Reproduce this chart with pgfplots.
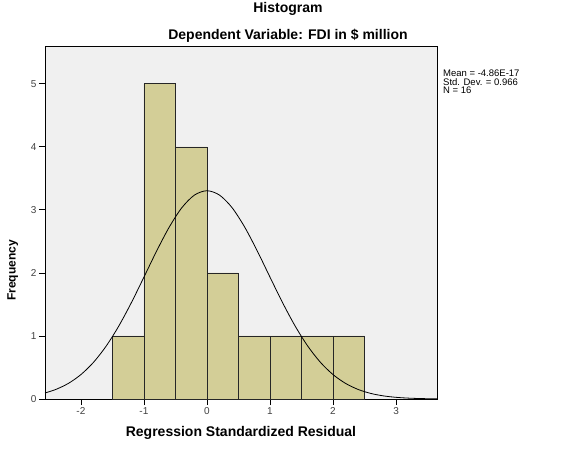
\documentclass[border=0pt]{standalone}
\usepackage{pgfplots}
\pgfplotsset{compat=1.18}
\usepackage{fontspec}
\setmainfont{Liberation Sans}
\definecolor{plotbg}{RGB}{240,240,240}
\definecolor{barfill}{RGB}{211,206,151}
\begin{document}
\begin{tikzpicture}
\begin{axis}[
  scale only axis, width=392pt, height=353pt,
  at={(0,0)}, anchor=south west,
  xmin=-2.57, xmax=3.65, ymin=0, ymax=5.6,
  axis background/.style={fill=plotbg},
  axis line style={black, line width=0.8pt},
  xtick={-2,-1,0,1,2,3}, ytick={0,1,2,3,4,5},
  tick align=outside, xtick pos=bottom, ytick pos=left,
  major tick length=6pt,
  tick style={black, line width=0.8pt},
  ticklabel style={font=\fontsize{10}{11}\selectfont, text=black!75},
  xticklabel style={yshift=1pt},
  yticklabel style={xshift=1pt},
  /pgf/number format/assume math mode=true,
  xlabel={Regression Standardized Residual},
  ylabel={Frequency},
  xlabel style={font=\bfseries\fontsize{14}{16}\selectfont, at={(axis description cs:0.5,-0.0963)}, anchor=center},
  ylabel style={font=\bfseries\fontsize{12}{14}\selectfont, at={(axis description cs:-0.082,0.364)}, anchor=center},
  clip=false,
]
\addplot[ybar interval, fill=barfill, draw=black!85, line width=0.7pt] coordinates {
  (-1.5,1) (-1.0,5) (-0.5,4) (0.0,2) (0.5,1) (1.0,1) (1.5,1) (2.0,1) (2.5,1)
};
\addplot[smooth, black, line width=0.8pt, mark=none] coordinates {
  (-2.57,0.0959) (-2.4,0.1509) (-2.2,0.2470) (-2.0,0.3875) (-1.8,0.5822)
  (-1.6,0.8382) (-1.4,1.1560) (-1.2,1.5275) (-1.0,1.9335) (-0.8,2.3450)
  (-0.6,2.7245) (-0.4,3.0330) (-0.2,3.2340) (0,3.3040) (0.2,3.2340)
  (0.4,3.0330) (0.6,2.7245) (0.8,2.3450) (1.0,1.9335) (1.2,1.5275)
  (1.4,1.1560) (1.6,0.8382) (1.8,0.5822) (2.0,0.3875) (2.2,0.2470)
  (2.4,0.1509) (2.6,0.0883) (2.8,0.0495) (3.0,0.0266) (3.2,0.0137)
  (3.4,0.0068) (3.6,0.0032) (3.65,0.0026)
};
\end{axis}
\node[font=\bfseries\fontsize{14}{16}\selectfont, anchor=center] at (243pt,390pt) {Histogram};
\node[font=\bfseries\fontsize{14}{16}\selectfont, anchor=center] at (243pt,363pt) {Dependent Variable: FDI in \$ million};
\node[font=\fontsize{9.5}{8.5}\selectfont, anchor=north west, align=left, inner sep=0pt] at (398pt,329pt) {Mean = -4.86E-17\\Std. Dev. = 0.966\\N = 16};
\pgfresetboundingbox
\path (-45pt,-49pt) rectangle (529pt,399pt);
\end{tikzpicture}
\end{document}
